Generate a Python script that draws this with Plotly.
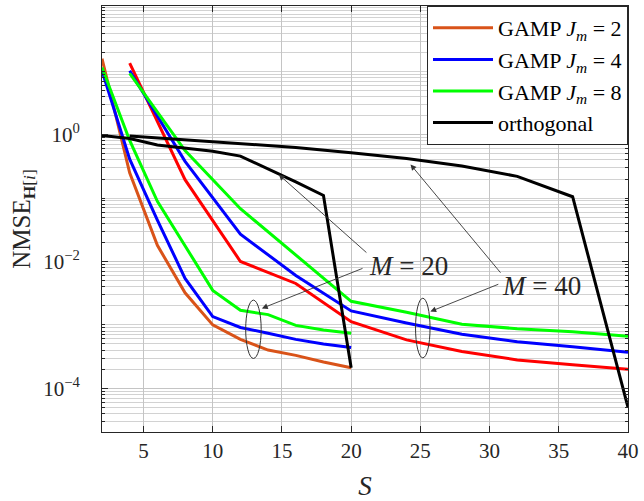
import numpy as np
import plotly.graph_objects as go

# Number of pilot symbols S for the two antenna configurations
S_M20 = [2, 4, 6, 8, 10, 12, 14, 16, 18, 20]
S_M40 = [4, 8, 12, 16, 20, 24, 28, 32, 36, 40]

# NMSE of the channel estimate, M = 20
nmse_gamp_j2_m20 = [15.8, 0.25, 0.018, 3.2e-3, 1.0e-3, 5.9e-4, 4.0e-4, 3.3e-4, 2.6e-4, 2.1e-4]
nmse_gamp_j4_m20 = [10.2, 0.41, 0.045, 5.4e-3, 1.35e-3, 9.1e-4, 7.4e-4, 5.9e-4, 5.0e-4, 4.4e-4]
nmse_gamp_j8_m20 = [11.5, 0.81, 0.089, 0.0178, 3.5e-3, 1.7e-3, 1.45e-3, 9.8e-4, 8.3e-4, 7.4e-4]
nmse_orth_m20 = [0.97, 0.87, 0.69, 0.62, 0.55, 0.46, 0.29, 0.18, 0.11, 2.1e-4]

# NMSE of the channel estimate, M = 40
nmse_gamp_j2_m40 = [13.5, 0.195, 0.01, 4.5e-3, 1.12e-3, 5.8e-4, 3.8e-4, 2.8e-4, 2.35e-4, 2.0e-4]
nmse_gamp_j4_m40 = [10.2, 0.38, 0.027, 6.0e-3, 1.66e-3, 1.07e-3, 7.1e-4, 5.4e-4, 4.5e-4, 3.7e-4]
nmse_gamp_j8_m40 = [9.3, 0.56, 0.068, 0.0126, 2.35e-3, 1.58e-3, 1.02e-3, 8.7e-4, 7.8e-4, 6.6e-4]
nmse_orth_m40 = [0.95, 0.83, 0.72, 0.63, 0.52, 0.42, 0.32, 0.22, 0.105, 5.0e-5]

x_ticks = [5, 10, 15, 20, 25, 30, 35, 40]
y_ticks = [1e-4, 1e-2, 1e0]
y_tick_text = ["10<sup>\u22124</sup>", "10<sup>\u22122</sup>", "10<sup>0</sup>"]

ORANGE = "#D95319"
BLUE = "#0000FF"
GREEN = "#00FF00"
RED = "#FF0000"
BLACK = "#000000"
FONT = "Liberation Serif"
LW = 3

fig = go.Figure()

def add(x, y, color, name=None, legend=False):
    fig.add_trace(go.Scatter(
        x=x, y=y, mode="lines", name=name, showlegend=legend,
        line=dict(color=color, width=LW),
    ))

add(S_M20, nmse_gamp_j2_m20, ORANGE, "GAMP <i>J</i><sub><i>m</i></sub> = 2", True)
add(S_M20, nmse_gamp_j4_m20, BLUE, "GAMP <i>J</i><sub><i>m</i></sub> = 4", True)
add(S_M20, nmse_gamp_j8_m20, GREEN, "GAMP <i>J</i><sub><i>m</i></sub> = 8", True)
add(S_M40, nmse_gamp_j2_m40, RED)
add(S_M40, nmse_gamp_j4_m40, BLUE)
add(S_M40, nmse_gamp_j8_m40, GREEN)
add(S_M20, nmse_orth_m20, BLACK, "orthogonal", True)
add(S_M40, nmse_orth_m40, BLACK)

# minor grid at k * 10^d
minor_vals = [k * 10.0 ** d for d in range(-5, 3) for k in range(1, 10)]

axis_common = dict(
    showline=True, linecolor="#262626", linewidth=1, mirror="allticks",
    ticks="inside", tickcolor="#262626", ticklen=6,
    tickfont=dict(family=FONT, size=21, color="#262626"),
    showgrid=True, gridcolor="#c4c4c4", gridwidth=1, zeroline=False,
)

fig.update_xaxes(
    range=[2, 40], tickvals=x_ticks,
    title=dict(text="<i>S</i>", font=dict(family=FONT, size=27, color="#262626"), standoff=14),
    **axis_common,
)
fig.update_yaxes(
    type="log", range=[-4.69, 2.03], tickvals=y_ticks, ticktext=y_tick_text,
    ticklabelstandoff=17,
    minor=dict(tickvals=minor_vals, ticks="inside", ticklen=3, tickcolor="#262626",
               showgrid=True, gridcolor="#d2d2d2", gridwidth=1),
    title=dict(text="NMSE<sub><b>H</b>[<i>i</i>]</sub>",
               font=dict(family=FONT, size=25, color="#262626"), standoff=5),
    **axis_common,
)

# Ellipses grouping the curves of each antenna configuration
ellipses = [(12.38, 13.5, 10 ** -3.53, 10 ** -2.61), (24.65, 25.7, 10 ** -3.52, 10 ** -2.58)]
for x0, x1, y0, y1 in ellipses:
    fig.add_shape(type="circle", xref="x", yref="y", x0=x0, x1=x1, y0=y0, y1=y1,
                  line=dict(color="#333333", width=1))

# Labels (y positions in log10 units for annotations on a log axis)
labels = [("<i>M</i> = 20", 24.14, -2.07), ("<i>M</i> = 40", 33.74, -2.38)]
for text, x, ly in labels:
    fig.add_annotation(x=x, y=ly, xref="x", yref="y", text=text, showarrow=False,
                       font=dict(family=FONT, size=27, color="#262626"))

# Arrows: head (x, log10 y) <- tail (x, log10 y)
arrows = [
    (14.77, -0.63, 21.21, -1.88),
    (13.55, -2.74, 20.93, -2.10),
    (24.29, -0.47, 30.88, -2.20),
    (25.72, -2.79, 30.74, -2.35),
]
for hx, hy, tx, ty in arrows:
    fig.add_annotation(x=hx, y=hy, ax=tx, ay=ty, xref="x", yref="y", axref="x", ayref="y",
                       text="", showarrow=True, arrowhead=2, arrowsize=1.3,
                       arrowwidth=0.9, arrowcolor="#333333", standoff=0, startstandoff=0)

fig.update_layout(
    width=644, height=501,
    margin=dict(l=102, r=12, t=5, b=66),
    paper_bgcolor="white", plot_bgcolor="white",
    font=dict(family=FONT, color="#262626"),
    legend=dict(x=1, y=1, xanchor="right", yanchor="top",
                bgcolor="white", bordercolor="#262626", borderwidth=1,
                font=dict(family=FONT, size=22, color="#000000"),
                tracegroupgap=0, itemwidth=60),
)

fig.write_html("out.html")
